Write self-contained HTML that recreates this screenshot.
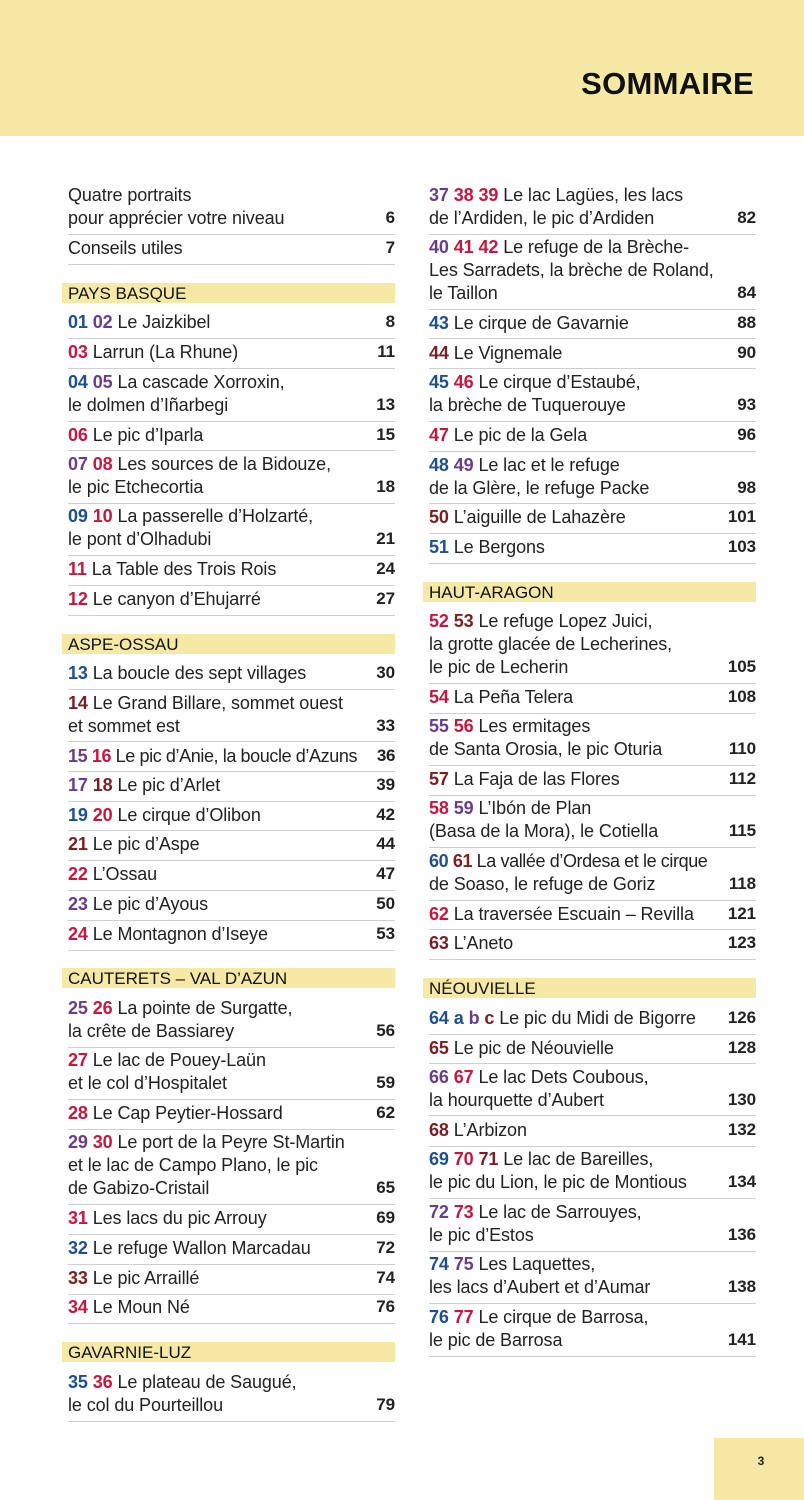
<!DOCTYPE html>
<html><head><meta charset="utf-8"><style>
body{margin:0;width:804px;height:1500px;position:relative;background:#fff;font-family:"Liberation Sans",sans-serif;color:#222;overflow:hidden}
.hd{position:absolute;left:0;top:0;width:804px;height:136px;background:#f6e9a6}
.tt{position:absolute;right:50px;top:66px;font-size:31px;font-weight:bold;color:#111;letter-spacing:0.3px}
.pg{position:absolute;left:714px;top:1438px;width:90px;height:62px;background:#f6e9a6;font-size:12px;font-weight:bold;text-align:center;line-height:46px;padding-left:4px;box-sizing:border-box}
.t{position:absolute;height:22px;line-height:22px;font-size:18px;letter-spacing:-0.1px;white-space:nowrap}
.L{left:68px;width:327px}.R{left:429px;width:327px}
.t i{font-style:normal;font-weight:bold;float:right;font-size:17px}
.t b{font-weight:bold}
.s{position:absolute;height:1px;background:#cfcfcf}
.sL{left:68px;width:327px}.sR{left:429px;width:327px}
.band{position:absolute;height:20px;background:#f6e9a6;font-size:17px;line-height:21px;padding-left:6px;box-sizing:border-box;color:#111}
.bL{left:62px;width:333px}.bR{left:423px;width:333px}
.b{color:#1d4f91}.p{color:#6a3d8c}.r{color:#c8173f}.d{color:#7b1f23}
</style></head><body>
<div class="hd"></div><div class="tt">SOMMAIRE</div>
<div class="pg">3</div>

<!-- LEFT -->
<div class="t L" style="top:184px">Quatre portraits</div>
<div class="t L" style="top:207px">pour apprécier votre niveau<i>6</i></div>
<div class="s sL" style="top:234px"></div>
<div class="t L" style="top:237px">Conseils utiles<i>7</i></div>
<div class="s sL" style="top:264px"></div>

<div class="band bL" style="top:283px">PAYS BASQUE</div>
<div class="t L" style="top:311px"><b class="b">01</b> <b class="p">02</b> Le Jaizkibel<i>8</i></div>
<div class="s sL" style="top:338px"></div>
<div class="t L" style="top:341px"><b class="r">03</b> Larrun (La Rhune)<i>11</i></div>
<div class="s sL" style="top:368px"></div>
<div class="t L" style="top:371px"><b class="b">04</b> <b class="p">05</b> La cascade Xorroxin,</div>
<div class="t L" style="top:394px">le dolmen d’Iñarbegi<i>13</i></div>
<div class="s sL" style="top:421px"></div>
<div class="t L" style="top:424px"><b class="r">06</b> Le pic d’Iparla<i>15</i></div>
<div class="s sL" style="top:450px"></div>
<div class="t L" style="top:453px"><b class="p">07</b> <b class="r">08</b> Les sources de la Bidouze,</div>
<div class="t L" style="top:476px">le pic Etchecortia<i>18</i></div>
<div class="s sL" style="top:503px"></div>
<div class="t L" style="top:505px"><b class="b">09</b> <b class="r">10</b> La passerelle d’Holzarté,</div>
<div class="t L" style="top:528px">le pont d’Olhadubi<i>21</i></div>
<div class="s sL" style="top:555px"></div>
<div class="t L" style="top:558px"><b class="r">11</b> La Table des Trois Rois<i>24</i></div>
<div class="s sL" style="top:585px"></div>
<div class="t L" style="top:588px"><b class="r">12</b> Le canyon d’Ehujarré<i>27</i></div>
<div class="s sL" style="top:615px"></div>

<div class="band bL" style="top:634px">ASPE-OSSAU</div>
<div class="t L" style="top:662px"><b class="b">13</b> La boucle des sept villages<i>30</i></div>
<div class="s sL" style="top:689px"></div>
<div class="t L" style="top:692px"><b class="d">14</b> Le Grand Billare, sommet ouest</div>
<div class="t L" style="top:715px">et sommet est<i>33</i></div>
<div class="s sL" style="top:741px"></div>
<div class="t L" style="top:745px;letter-spacing:-0.4px"><b class="p">15</b> <b class="r">16</b> Le pic d’Anie, la boucle d’Azuns<i>36</i></div>
<div class="s sL" style="top:771px"></div>
<div class="t L" style="top:774px"><b class="p">17</b> <b class="d">18</b> Le pic d’Arlet<i>39</i></div>
<div class="s sL" style="top:801px"></div>
<div class="t L" style="top:804px"><b class="b">19</b> <b class="r">20</b> Le cirque d’Olibon<i>42</i></div>
<div class="s sL" style="top:830px"></div>
<div class="t L" style="top:833px"><b class="d">21</b> Le pic d’Aspe<i>44</i></div>
<div class="s sL" style="top:860px"></div>
<div class="t L" style="top:863px"><b class="r">22</b> L’Ossau<i>47</i></div>
<div class="s sL" style="top:890px"></div>
<div class="t L" style="top:893px"><b class="p">23</b> Le pic d’Ayous<i>50</i></div>
<div class="s sL" style="top:920px"></div>
<div class="t L" style="top:923px"><b class="r">24</b> Le Montagnon d’Iseye<i>53</i></div>
<div class="s sL" style="top:950px"></div>

<div class="band bL" style="top:968px">CAUTERETS – VAL D’AZUN</div>
<div class="t L" style="top:997px"><b class="p">25</b> <b class="r">26</b> La pointe de Surgatte,</div>
<div class="t L" style="top:1020px">la crête de Bassiarey<i>56</i></div>
<div class="s sL" style="top:1047px"></div>
<div class="t L" style="top:1049px"><b class="r">27</b> Le lac de Pouey-Laün</div>
<div class="t L" style="top:1072px">et le col d’Hospitalet<i>59</i></div>
<div class="s sL" style="top:1099px"></div>
<div class="t L" style="top:1102px"><b class="r">28</b> Le Cap Peytier-Hossard<i>62</i></div>
<div class="s sL" style="top:1129px"></div>
<div class="t L" style="top:1131px"><b class="p">29</b> <b class="r">30</b> Le port de la Peyre St-Martin</div>
<div class="t L" style="top:1154px">et le lac de Campo Plano, le pic</div>
<div class="t L" style="top:1177px">de Gabizo-Cristail<i>65</i></div>
<div class="s sL" style="top:1204px"></div>
<div class="t L" style="top:1207px"><b class="r">31</b> Les lacs du pic Arrouy<i>69</i></div>
<div class="s sL" style="top:1234px"></div>
<div class="t L" style="top:1237px"><b class="b">32</b> Le refuge Wallon Marcadau<i>72</i></div>
<div class="s sL" style="top:1264px"></div>
<div class="t L" style="top:1267px"><b class="d">33</b> Le pic Arraillé<i>74</i></div>
<div class="s sL" style="top:1294px"></div>
<div class="t L" style="top:1296px"><b class="r">34</b> Le Moun Né<i>76</i></div>
<div class="s sL" style="top:1323px"></div>

<div class="band bL" style="top:1342px">GAVARNIE-LUZ</div>
<div class="t L" style="top:1371px"><b class="b">35</b> <b class="r">36</b> Le plateau de Saugué,</div>
<div class="t L" style="top:1394px">le col du Pourteillou<i>79</i></div>
<div class="s sL" style="top:1421px"></div>

<!-- RIGHT -->
<div class="t R" style="top:184px"><b class="p">37</b> <b class="r">38</b> <b class="r">39</b> Le lac Lagües, les lacs</div>
<div class="t R" style="top:207px">de l’Ardiden, le pic d’Ardiden<i>82</i></div>
<div class="s sR" style="top:234px"></div>
<div class="t R" style="top:236px"><b class="p">40</b> <b class="r">41</b> <b class="r">42</b> Le refuge de la Brèche-</div>
<div class="t R" style="top:259px">Les Sarradets, la brèche de Roland,</div>
<div class="t R" style="top:282px">le Taillon<i>84</i></div>
<div class="s sR" style="top:309px"></div>
<div class="t R" style="top:312px"><b class="b">43</b> Le cirque de Gavarnie<i>88</i></div>
<div class="s sR" style="top:338px"></div>
<div class="t R" style="top:342px"><b class="d">44</b> Le Vignemale<i>90</i></div>
<div class="s sR" style="top:368px"></div>
<div class="t R" style="top:371px"><b class="b">45</b> <b class="r">46</b> Le cirque d’Estaubé,</div>
<div class="t R" style="top:394px">la brèche de Tuquerouye<i>93</i></div>
<div class="s sR" style="top:421px"></div>
<div class="t R" style="top:424px"><b class="r">47</b> Le pic de la Gela<i>96</i></div>
<div class="s sR" style="top:451px"></div>
<div class="t R" style="top:454px"><b class="b">48</b> <b class="p">49</b> Le lac et le refuge</div>
<div class="t R" style="top:477px">de la Glère, le refuge Packe<i>98</i></div>
<div class="s sR" style="top:503px"></div>
<div class="t R" style="top:506px"><b class="d">50</b> L’aiguille de Lahazère<i>101</i></div>
<div class="s sR" style="top:533px"></div>
<div class="t R" style="top:536px"><b class="b">51</b> Le Bergons<i>103</i></div>
<div class="s sR" style="top:563px"></div>

<div class="band bR" style="top:582px">HAUT-ARAGON</div>
<div class="t R" style="top:610px"><b class="r">52</b> <b class="d">53</b> Le refuge Lopez Juici,</div>
<div class="t R" style="top:633px">la grotte glacée de Lecherines,</div>
<div class="t R" style="top:656px">le pic de Lecherin<i>105</i></div>
<div class="s sR" style="top:683px"></div>
<div class="t R" style="top:686px"><b class="r">54</b> La Peña Telera<i>108</i></div>
<div class="s sR" style="top:713px"></div>
<div class="t R" style="top:715px"><b class="p">55</b> <b class="r">56</b> Les ermitages</div>
<div class="t R" style="top:738px">de Santa Orosia, le pic Oturia<i>110</i></div>
<div class="s sR" style="top:765px"></div>
<div class="t R" style="top:768px"><b class="d">57</b> La Faja de las Flores<i>112</i></div>
<div class="s sR" style="top:795px"></div>
<div class="t R" style="top:797px"><b class="r">58</b> <b class="p">59</b> L’Ibón de Plan</div>
<div class="t R" style="top:820px">(Basa de la Mora), le Cotiella<i>115</i></div>
<div class="s sR" style="top:847px"></div>
<div class="t R" style="top:850px;letter-spacing:-0.4px"><b class="b">60</b> <b class="d">61</b> La vallée d’Ordesa et le cirque</div>
<div class="t R" style="top:873px">de Soaso, le refuge de Goriz<i>118</i></div>
<div class="s sR" style="top:900px"></div>
<div class="t R" style="top:903px"><b class="r">62</b> La traversée Escuain – Revilla<i>121</i></div>
<div class="s sR" style="top:929px"></div>
<div class="t R" style="top:932px"><b class="d">63</b> L’Aneto<i>123</i></div>
<div class="s sR" style="top:959px"></div>

<div class="band bR" style="top:978px">NÉOUVIELLE</div>
<div class="t R" style="top:1007px"><b class="b">64</b> <b class="b">a</b> <b class="p">b</b> <b class="d">c</b> Le pic du Midi de Bigorre<i>126</i></div>
<div class="s sR" style="top:1034px"></div>
<div class="t R" style="top:1037px"><b class="d">65</b> Le pic de Néouvielle<i>128</i></div>
<div class="s sR" style="top:1063px"></div>
<div class="t R" style="top:1066px"><b class="p">66</b> <b class="r">67</b> Le lac Dets Coubous,</div>
<div class="t R" style="top:1089px">la hourquette d’Aubert<i>130</i></div>
<div class="s sR" style="top:1115px"></div>
<div class="t R" style="top:1119px"><b class="d">68</b> L’Arbizon<i>132</i></div>
<div class="s sR" style="top:1146px"></div>
<div class="t R" style="top:1148px"><b class="b">69</b> <b class="r">70</b> <b class="d">71</b> Le lac de Bareilles,</div>
<div class="t R" style="top:1171px">le pic du Lion, le pic de Montious<i>134</i></div>
<div class="s sR" style="top:1198px"></div>
<div class="t R" style="top:1201px"><b class="p">72</b> <b class="r">73</b> Le lac de Sarrouyes,</div>
<div class="t R" style="top:1224px">le pic d’Estos<i>136</i></div>
<div class="s sR" style="top:1251px"></div>
<div class="t R" style="top:1253px"><b class="b">74</b> <b class="p">75</b> Les Laquettes,</div>
<div class="t R" style="top:1276px">les lacs d’Aubert et d’Aumar<i>138</i></div>
<div class="s sR" style="top:1303px"></div>
<div class="t R" style="top:1306px"><b class="b">76</b> <b class="r">77</b> Le cirque de Barrosa,</div>
<div class="t R" style="top:1329px">le pic de Barrosa<i>141</i></div>
<div class="s sR" style="top:1356px"></div>
</body></html>
